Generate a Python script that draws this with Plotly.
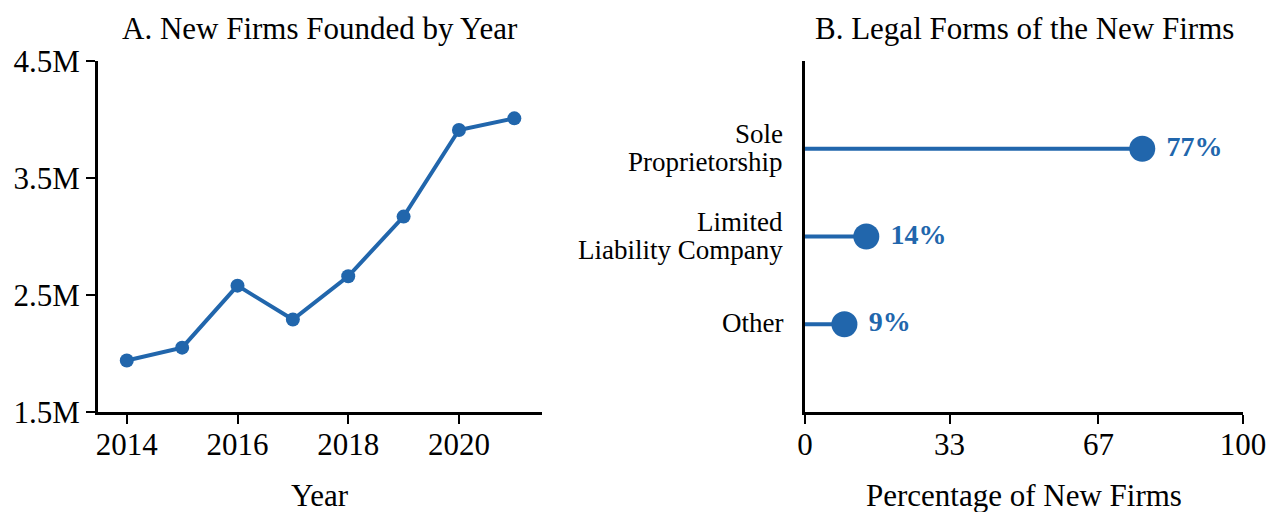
import plotly.graph_objects as go

BLUE = "#2166ac"
FONT = "Liberation Serif"

years = [2014, 2015, 2016, 2017, 2018, 2019, 2020, 2021]
new_firms = [1.94e6, 2.05e6, 2.58e6, 2.29e6, 2.66e6, 3.17e6, 3.91e6, 4.01e6]

legal_forms = ["Other", "Limited Liability Company", "Sole Proprietorship"]
form_labels = [["Other"], ["Limited", "Liability Company"], ["Sole", "Proprietorship"]]
form_share = [9, 14, 77]

fig = go.Figure()

# panel A: line chart
fig.add_trace(go.Scatter(
    x=years, y=new_firms, mode="lines+markers",
    line=dict(color=BLUE, width=4),
    marker=dict(color=BLUE, size=14),
    xaxis="x", yaxis="y", showlegend=False,
))

# panel B: lollipops
for form, share in zip(legal_forms, form_share):
    fig.add_trace(go.Scatter(
        x=[0, share], y=[form, form], mode="lines",
        line=dict(color=BLUE, width=4),
        xaxis="x2", yaxis="y2", showlegend=False,
    ))
fig.add_trace(go.Scatter(
    x=form_share, y=legal_forms, mode="markers+text",
    marker=dict(color=BLUE, size=26),
    text=[f"\u00a0<b>{v}%</b>" for v in form_share],
    textposition="middle right",
    textfont=dict(family=FONT, size=28, color=BLUE),
    xaxis="x2", yaxis="y2", showlegend=False,
))

axis_common = dict(
    showline=True, linecolor="black", linewidth=3,
    ticks="outside", tickcolor="black", tickwidth=2, ticklen=9,
    showgrid=False, zeroline=False,
    tickfont=dict(family=FONT, size=31, color="black"),
    automargin=False,
)

fig.update_layout(
    width=1273, height=512,
    margin=dict(l=0, r=0, t=0, b=0),
    paper_bgcolor="white", plot_bgcolor="white",
    font=dict(family=FONT, color="black"),
    xaxis=dict(
        domain=[98 / 1273, 542 / 1273], range=[2013.48, 2021.5],
        tickvals=[2014, 2016, 2018, 2020], anchor="y", ticklabelstandoff=-6,
        **axis_common,
    ),
    yaxis=dict(
        domain=[100 / 512, 451 / 512], range=[1.5e6, 4.5e6],
        tickvals=[1.5e6, 2.5e6, 3.5e6, 4.5e6], tickformat=".2s", anchor="x",
        **axis_common,
    ),
    xaxis2=dict(
        domain=[805 / 1273, 1243 / 1273], range=[0, 100],
        tickvals=[0, 33, 67, 100], anchor="y2", ticklabelstandoff=-6,
        **axis_common,
    ),
    yaxis2=dict(
        domain=[100 / 512, 451 / 512], range=[-1, 3],
        type="category", categoryarray=legal_forms, anchor="x2",
        showline=True, linecolor="black", linewidth=3,
        ticks="", showticklabels=False, showgrid=False, zeroline=False,
    ),
)

# panel titles and axis titles
titles = [
    ("A. New Firms Founded by Year", 320, 28),
    ("B. Legal Forms of the New Firms", 1024, 28),
    ("Year", 320, 495),
    ("Percentage of New Firms", 1024, 495),
]
for text, cx, cy in titles:
    fig.add_annotation(text=text, xref="paper", yref="paper",
                       x=cx / 1273, y=(512 - cy) / 512, showarrow=False,
                       xanchor="center", yanchor="middle",
                       font=dict(family=FONT, size=31, color="black"))

# category labels, tighter line spacing than <br>
for form, lines in zip(legal_forms, form_labels):
    n = len(lines)
    for i, line in enumerate(lines):
        shift = (n - 1) / 2 * 28 - i * 28 + 1
        fig.add_annotation(text=line, xref="x2 domain", yref="y2",
                           x=0, y=form, xshift=-20, yshift=shift, showarrow=False,
                           xanchor="right", yanchor="middle",
                           font=dict(family=FONT, size=27, color="black"))

fig.write_html("out.html", config={"displayModeBar": False},
               post_script="document.body.style.margin='0';")
